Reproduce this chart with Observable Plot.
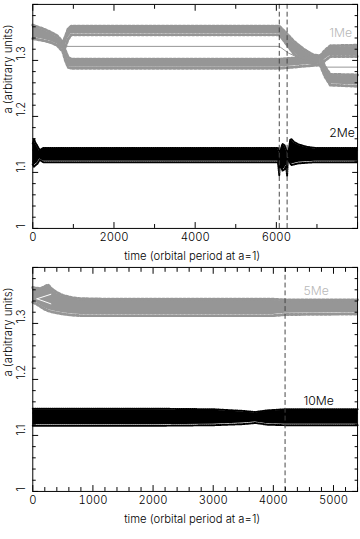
<!DOCTYPE html>
<html><head><meta charset="utf-8">
<script src="https://cdn.jsdelivr.net/npm/d3@7"></script>
<script src="https://cdn.jsdelivr.net/npm/@observablehq/plot@0.6"></script>
<style>
html,body{margin:0;padding:0;background:#fff;overflow:hidden;width:360px;height:539px}
#chart svg{display:block}
</style></head><body><div id="chart"></div>
<script>
// ---------------- data (time in orbital periods at a=1, a in arbitrary units) ----------------
// TOP PANEL — 1Me (grey)
const top1MeEarlyT  = [0, 150, 300, 450, 600, 700, 760];
const top1MeEarlyHi = [1.361, 1.357, 1.353, 1.348, 1.342, 1.334, 1.328];
const top1MeEarlyLo = [1.341, 1.339, 1.337, 1.334, 1.329, 1.321, 1.320];

const top1MeUpperT  = [740, 800, 870, 950, 2000, 3000, 4000, 5000, 6072, 6200, 6430, 6670, 6900, 7080];
const top1MeUpperHi = [1.330, 1.340, 1.354, 1.359, 1.359, 1.359, 1.359, 1.359, 1.359, 1.350, 1.332, 1.318, 1.308, 1.306];
const top1MeUpperLo = [1.320, 1.326, 1.340, 1.348, 1.348, 1.348, 1.348, 1.348, 1.348, 1.336, 1.314, 1.300, 1.296, 1.294];

const top1MeLowerT  = [740, 800, 870, 950, 2000, 3000, 4000, 5000, 6072, 6400, 6700, 7080];
const top1MeLowerHi = [1.330, 1.316, 1.303, 1.300, 1.300, 1.300, 1.300, 1.300, 1.300, 1.302, 1.302, 1.306];
const top1MeLowerLo = [1.318, 1.303, 1.290, 1.288, 1.288, 1.288, 1.288, 1.288, 1.288, 1.290, 1.292, 1.294];

const top1MeUpper2T  = [7080, 7200, 7330, 8000];
const top1MeUpper2Hi = [1.306, 1.316, 1.324, 1.325];
const top1MeUpper2Lo = [1.294, 1.302, 1.309, 1.309];

const top1MeLower2T  = [7080, 7200, 7330, 8000];
const top1MeLower2Hi = [1.306, 1.286, 1.273, 1.272];
const top1MeLower2Lo = [1.294, 1.273, 1.258, 1.256];

const top1MeMidT = [760, 6072, 6300, 6600, 6900, 7100, 7250, 8000];
const top1MeMidA = [1.325, 1.325, 1.313, 1.303, 1.298, 1.293, 1.288, 1.288];

// TOP PANEL — 2Me (black)
const top2MeT  = [0, 30, 60, 110, 170, 260, 400, 6040, 6072, 6090, 6120, 6150, 6200, 6240, 6265, 6285, 6310, 6340, 6370, 6430, 6550, 6750, 6950, 8000];
const top2MeHi = [1.150, 1.158, 1.152, 1.146, 1.138, 1.142, 1.142, 1.142, 1.135, 1.133, 1.142, 1.149, 1.147, 1.140, 1.136, 1.131, 1.140, 1.156, 1.158, 1.153, 1.148, 1.144, 1.142, 1.142];
const top2MeLo = [1.116, 1.112, 1.114, 1.117, 1.124, 1.120, 1.120, 1.120, 1.096, 1.126, 1.112, 1.105, 1.107, 1.113, 1.096, 1.127, 1.125, 1.118, 1.115, 1.116, 1.118, 1.119, 1.120, 1.120];

const topEvents = [6072, 6265];
const topLabels = [{t: 7300, a: 1.349, name: "1Me"}, {t: 7300, a: 1.171, name: "2Me"}];

// BOTTOM PANEL — 5Me (grey)
const bot5MeT  = [0, 60, 120, 190, 250, 310, 400, 500, 650, 800, 1300, 2000, 3000, 4000, 4200, 5400];
const bot5MeHi = [1.362, 1.361, 1.360, 1.363, 1.367, 1.360, 1.353, 1.348, 1.344, 1.342, 1.341, 1.341, 1.341, 1.341, 1.340, 1.340];
const bot5MeLo = [1.340, 1.337, 1.333, 1.328, 1.325, 1.323, 1.321, 1.319, 1.317, 1.316, 1.316, 1.316, 1.316, 1.316, 1.318, 1.319];
const bot5MeGapT = [70, 300];
const bot5MeGapUpA = [1.344, 1.352];
const bot5MeGapDnA = [1.344, 1.335];

// BOTTOM PANEL — 10Me (black)
const bot10MeT  = [0, 1000, 2000, 3000, 3500, 3700, 3900, 4200, 5400];
const bot10MeHi = [1.146, 1.146, 1.146, 1.145, 1.142, 1.140, 1.143, 1.145, 1.145];
const bot10MeLo = [1.119, 1.119, 1.119, 1.120, 1.122, 1.124, 1.121, 1.120, 1.120];

const botEvents = [4195];
const botLabels = [{t: 4500, a: 1.357, name: "5Me"}, {t: 4500, a: 1.162, name: "10Me"}];

// axes
const yMajor = [1, 1.1, 1.2, 1.3, 1.4];
const yMinor = [1.02,1.04,1.06,1.08,1.12,1.14,1.16,1.18,1.22,1.24,1.26,1.28,1.32,1.34,1.36,1.38];
const yTickVals = [1, 1.1, 1.2, 1.3];
const yTickLabels = ["1", "1.1", "1.2", "1.3"];
const topXMajor = [0, 2000, 4000, 6000, 8000];
const topXMinor = [1000, 3000, 5000, 7000];
const topXLabels = [0, 2000, 4000, 6000];
const botXMajor = [0, 1000, 2000, 3000, 4000, 5000];
const botXMinor = [200,400,600,800,1200,1400,1600,1800,2200,2400,2600,2800,3200,3400,3600,3800,4200,4400,4600,4800,5200,5400];
const botXLabels = [0, 1000, 2000, 3000, 4000, 5000];
const xTitle = "time (orbital period at a=1)";
const yTitle = "a (arbitrary units)";

// ---------------- drawing ----------------
const GREY = "#969696", LGREY = "#b8b8b8", BLACK = "#000";
const FONT = "Inter, 'Liberation Sans', Arial, sans-serif";
const rows = (T, Hi, Lo) => T.map((t, i) => ({t, hi: Hi[i], lo: Lo[i]}));
const pts = (T, A) => T.map((t, i) => ({t, a: A[i]}));

function band(data, color, teeth) {
  const m = [Plot.areaY(data, {x: "t", y1: "lo", y2: "hi", fill: color})];
  if (teeth) {
    m.push(Plot.lineY(data, {x: "t", y: "hi", stroke: color, strokeWidth: teeth.w, strokeDasharray: teeth.d, dy: -teeth.o}));
    m.push(Plot.lineY(data, {x: "t", y: "lo", stroke: color, strokeWidth: teeth.w, strokeDasharray: teeth.d, dy: teeth.o}));
  }
  return m;
}
const greyTeeth = {w: 3, d: "2.2,2.1", o: 1.2};
const blackTeeth = {w: 2, d: "1,1.2", o: 1};

function axes(xMajor, xMinor, xLabels) {
  return [
    Plot.axisX(xMinor, {anchor: "bottom", tickSize: -4, tickFormat: () => "", label: null}),
    Plot.axisX(xMajor, {anchor: "bottom", tickSize: -6, tickFormat: () => "", label: null}),
    Plot.axisX(xMinor, {anchor: "top", tickSize: -4, tickFormat: () => "", label: null}),
    Plot.axisX(xMajor, {anchor: "top", tickSize: -6, tickFormat: () => "", label: null}),
    Plot.axisX(xLabels, {anchor: "bottom", tickSize: 0, tickPadding: 5, tickFormat: d => String(d), label: null, fontSize: 11.5}),
    Plot.axisY(yMinor, {anchor: "left", tickSize: -3.5, tickFormat: () => "", label: null}),
    Plot.axisY(yMajor, {anchor: "left", tickSize: -6, tickFormat: () => "", label: null}),
    Plot.axisY(yMinor, {anchor: "right", tickSize: -3.5, tickFormat: () => "", label: null}),
    Plot.axisY(yMajor, {anchor: "right", tickSize: -6, tickFormat: () => "", label: null}),
    Plot.text(yTickVals, {y: d => d, text: (d, i) => yTickLabels[i], frameAnchor: "left", dx: -11.5, rotate: -90, fontSize: 11.5}),
    Plot.text([xTitle], {frameAnchor: "bottom", dy: 32, dx: -3, fontSize: 11.5}),
    Plot.text([yTitle], {frameAnchor: "left", dx: -25, dy: -3, rotate: -90, fontSize: 11.5}),
    Plot.frame({stroke: BLACK})
  ];
}

const common = {
  width: 368,
  marginLeft: 33, marginRight: 3,
  style: {fontFamily: FONT, fontWeight: 300, background: "#fff", color: "#000", overflow: "visible"},
  y: {domain: [1, 1.4], axis: null}
};

const topPlot = Plot.plot({
  ...common,
  height: 270, marginTop: 4, marginBottom: 37,
  x: {domain: [0, 8000], axis: null},
  marks: [
    ...band(rows(top1MeEarlyT, top1MeEarlyHi, top1MeEarlyLo), GREY, greyTeeth),
    ...band(rows(top1MeUpperT, top1MeUpperHi, top1MeUpperLo), GREY, greyTeeth),
    ...band(rows(top1MeLowerT, top1MeLowerHi, top1MeLowerLo), GREY, greyTeeth),
    ...band(rows(top1MeUpper2T, top1MeUpper2Hi, top1MeUpper2Lo), GREY, greyTeeth),
    ...band(rows(top1MeLower2T, top1MeLower2Hi, top1MeLower2Lo), GREY, greyTeeth),
    Plot.lineY(pts(top1MeMidT, top1MeMidA), {x: "t", y: "a", stroke: GREY, strokeWidth: 1}),
    ...band(rows(top2MeT, top2MeHi, top2MeLo), BLACK, blackTeeth),
    Plot.ruleX(topEvents, {stroke: "#444", strokeDasharray: "5,3", strokeWidth: 1}),
    Plot.text(topLabels.slice(0, 1), {x: "t", y: "a", text: "name", fill: LGREY, textAnchor: "start", fontSize: 12.5}),
    Plot.text(topLabels.slice(1), {x: "t", y: "a", text: "name", fill: BLACK, textAnchor: "start", fontSize: 12.5}),
    ...axes(topXMajor, topXMinor, topXLabels)
  ]
});

const botPlot = Plot.plot({
  ...common,
  height: 269, marginTop: 3, marginBottom: 37,
  x: {domain: [0, 5400], axis: null},
  marks: [
    ...band(rows(bot5MeT, bot5MeHi, bot5MeLo), GREY, greyTeeth),
    Plot.lineY(pts(bot5MeGapT, bot5MeGapUpA), {x: "t", y: "a", stroke: "#fff", strokeWidth: 1}),
    Plot.lineY(pts(bot5MeGapT, bot5MeGapDnA), {x: "t", y: "a", stroke: "#fff", strokeWidth: 1}),
    ...band(rows(bot10MeT, bot10MeHi, bot10MeLo), BLACK, blackTeeth),
    Plot.ruleX(botEvents, {stroke: "#444", strokeDasharray: "5,3", strokeWidth: 1}),
    Plot.text(botLabels.slice(0, 1), {x: "t", y: "a", text: "name", fill: LGREY, textAnchor: "start", fontSize: 12.5}),
    Plot.text(botLabels.slice(1), {x: "t", y: "a", text: "name", fill: BLACK, textAnchor: "start", fontSize: 12.5}),
    ...axes(botXMajor, botXMinor, botXLabels)
  ]
});

const root = document.getElementById("chart");
root.append(topPlot, botPlot);
</script></body></html>
